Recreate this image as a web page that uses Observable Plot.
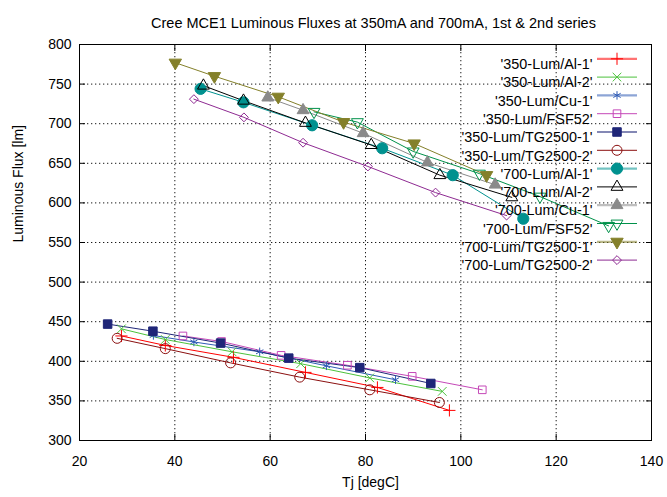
<!DOCTYPE html>
<html><head><meta charset="utf-8">
<script src="https://cdn.jsdelivr.net/npm/d3@7"></script>
<script src="https://cdn.jsdelivr.net/npm/@observablehq/plot@0.6"></script>
<style>body{margin:0;background:#fff}</style>
</head><body><div id="chart"></div>
<script>
const title = "Cree MCE1 Luminous Fluxes at 350mA and 700mA, 1st & 2nd series";
const xLabel = "Tj [degC]";
const yLabel = "Luminous Flux [lm]";
const xTicks = [20, 40, 60, 80, 100, 120, 140];
const yTicks = [300, 350, 400, 450, 500, 550, 600, 650, 700, 750, 800];

const seriesNames = [
  "'350-Lum/Al-1'", "'350-Lum/Al-2'", "'350-Lum/Cu-1'", "'350-Lum/FSF52'",
  "'350-Lum/TG2500-1'", "'350-Lum/TG2500-2'", "'700-Lum/Al-1'", "'700-Lum/Al-2'",
  "'700-Lum/Cu-1'", "'700-Lum/FSF52'", "'700-Lum/TG2500-1'", "'700-Lum/TG2500-2'"
];

const lum350_Al1     = [[28.8,432],[38.0,420],[52.3,405],[67.4,386],[82.5,367],[97.6,338]];
const lum350_Al2     = [[28.8,441],[38.0,427.5],[52.0,412],[66.4,397],[80.9,379],[96.1,362]];
const lum350_Cu1     = [[35.5,432.6],[44.0,424.4],[57.8,412],[71.8,394.3],[86.3,376.7]];
const lum350_FSF52   = [[41.7,432],[49.8,425],[62.3,407.5],[76.2,395],[89.8,381],[104.5,364]];
const lum350_TG25001 = [[25.9,447],[35.4,438],[49.6,423],[63.9,404],[78.8,392],[93.7,372]];
const lum350_TG25002 = [[27.9,429],[38.0,416],[51.7,398],[66.2,380],[80.9,364],[95.5,348]];
const lum700_Al1     = [[45.4,744],[54.4,727],[68.8,698],[83.5,669],[98.3,635],[113.1,580]];
const lum700_Al2     = [[46.0,748],[54.4,729],[67.4,701],[81.2,673],[95.6,635],[110.7,607]];
const lum700_Cu1     = [[59.5,733],[66.9,717],[79.5,688],[93.0,651],[107.2,623]];
const lum700_FSF52   = [[69.2,715],[78.3,702],[90.0,665],[103.9,637],[116.6,608],[131.0,571]];
const lum700_TG25001 = [[40.1,777],[48.3,760],[61.7,734],[75.4,702],[90.2,675],[105.4,635]];
const lum700_TG25002 = [[44.0,731],[54.5,708],[66.9,676],[80.5,646],[94.7,613],[109.6,584]];

const seriesData = [lum350_Al1, lum350_Al2, lum350_Cu1, lum350_FSF52, lum350_TG25001, lum350_TG25002,
  lum700_Al1, lum700_Al2, lum700_Cu1, lum700_FSF52, lum700_TG25001, lum700_TG25002];

// styles
const colors = ["#ff0000","#4cc23c","#2f5bb5","#c548b8","#1f2678","#8b1010","#00918f","#000000","#8a8a8a","#00914a","#84802a","#8e2a92"];
const symbols = ["plus","times","asterisk","square","square","circle","circle","triangle","triangle","triangle","triangle","diamond2"];
const filled  = [false,false,false,false,true,false,true,false,true,false,true,false];
const rotates = [0,0,0,0,0,0,0,0,0,180,180,0];
const radii   = [4,4,4,4.3,4.8,5,5.6,4.4,4.4,4.4,4.6,4];
const legendSoft = [true,false,true,false,true,false,true,false,true,false,true,false];

const lineSymbol = {draw(ctx){ ctx.moveTo(-20,0); ctx.lineTo(20,0); }};

const marks = [
  Plot.gridX(xTicks, {stroke:"#000", strokeOpacity:0.9, strokeDasharray:"1.3,2.7"}),
  Plot.gridY(yTicks, {stroke:"#000", strokeOpacity:0.9, strokeDasharray:"1.3,2.7"}),
  Plot.axisX(xTicks, {anchor:"bottom", tickSize:-6, tickPadding:22, fontSize:14, label:null}),
  Plot.axisX(xTicks, {anchor:"top", tickSize:-6, tickFormat:()=>"", label:null}),
  Plot.axisY(yTicks, {anchor:"left", tickSize:-6, tickPadding:14, fontSize:14, label:null}),
  Plot.axisY(yTicks, {anchor:"right", tickSize:-6, tickFormat:()=>"", label:null}),
  Plot.frame({stroke:"#000"})
];

seriesData.forEach((data, i) => {
  marks.push(Plot.line(data, {x: d=>d[0], y: d=>d[1], stroke: colors[i], strokeWidth: 1}));
});
seriesData.forEach((data, i) => {
  marks.push(Plot.dot(data, {x: d=>d[0], y: d=>d[1], symbol: symbols[i], r: radii[i],
    stroke: colors[i], fill: filled[i] ? colors[i] : "none", rotate: rotates[i], strokeWidth: 1}));
});

// legend
seriesNames.forEach((name, i) => {
  const dy = 14.3 + i * 18.3;
  marks.push(Plot.text([name], {text: d=>d, frameAnchor:"top-right", textAnchor:"end", dx:-59, dy, fontSize:14.4, fill:"#000"}));
  marks.push(Plot.dot([name], {frameAnchor:"top-right", dx:-34.5, dy, symbol: lineSymbol, r: 4,
    stroke: colors[i], strokeWidth: legendSoft[i] ? 2.2 : 1, strokeOpacity: legendSoft[i] ? 0.55 : 1}));
  marks.push(Plot.dot([name], {frameAnchor:"top-right", dx:-34.5, dy, symbol: symbols[i], r: radii[i],
    stroke: colors[i], fill: filled[i] ? colors[i] : "none", rotate: rotates[i], strokeWidth: 1}));
});

// titles
marks.push(Plot.text([title], {text:d=>d, frameAnchor:"top", dy:-27, dx:8, fontSize:14.5, fill:"#000"}));
marks.push(Plot.text([xLabel], {text:d=>d, frameAnchor:"bottom", dy:46, dx:5, fontSize:14, fill:"#000"}));
marks.push(Plot.text([yLabel], {text:d=>d, frameAnchor:"left", dx:-61, rotate:-90, fontSize:14, fill:"#000"}));

const chart = Plot.plot({
  width: 667, height: 497,
  marginLeft: 79, marginRight: 16, marginTop: 44, marginBottom: 57,
  style: {fontFamily: "'Liberation Sans', Arial, sans-serif", fontSize: "14px", background: "#fff", color: "#000"},
  x: {domain: [20, 140]},
  y: {domain: [300, 800]},
  marks
});
document.getElementById("chart").appendChild(chart);
</script>
</body></html>
